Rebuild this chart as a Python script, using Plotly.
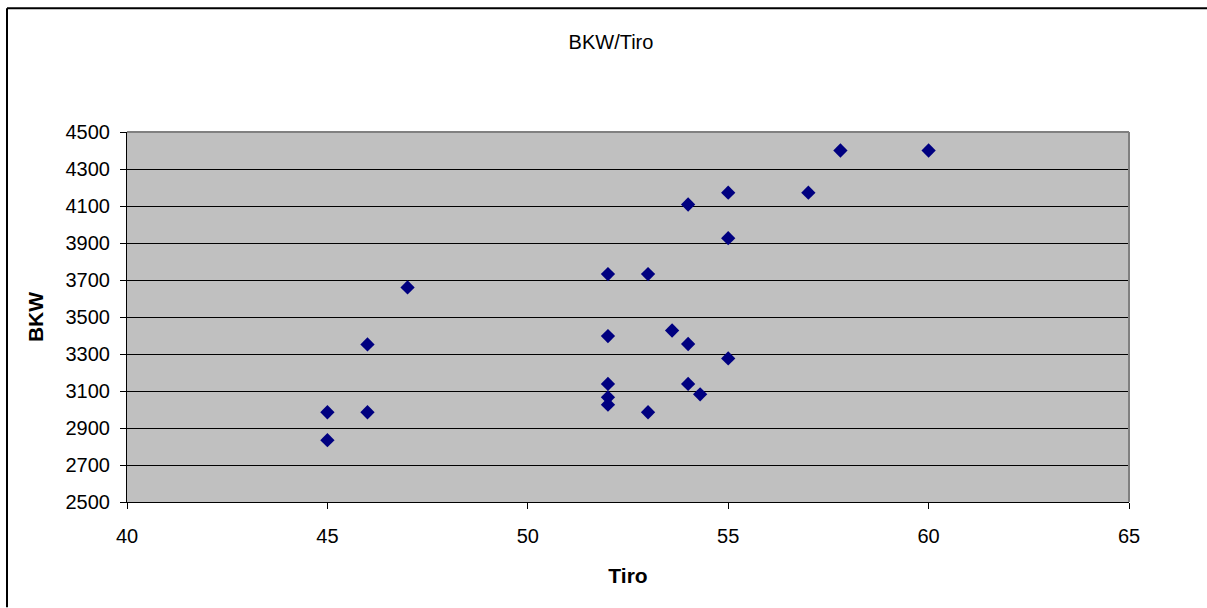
import plotly.graph_objects as go

tiro = [45, 45, 46, 46, 47,
        52, 52, 52, 52, 52,
        53, 53, 53.6,
        54, 54, 54, 54.3,
        55, 55, 55, 57, 57.8, 60]
bkw = [2985, 2834, 3352, 2985, 3660,
       3732, 3397, 3138, 3066, 3026,
       3732, 2985, 3427,
       4108, 3354, 3138, 3082,
       4172, 3926, 3276, 4172, 4400, 4400]

title_text = "BKW/Tiro"
x_title = "Tiro"
y_title = "BKW"
x_ticks = [40, 45, 50, 55, 60, 65]
y_ticks = [2500, 2700, 2900, 3100, 3300, 3500, 3700, 3900, 4100, 4300, 4500]

FONT = "Liberation Sans, Arial, sans-serif"

fig = go.Figure()
fig.add_trace(go.Scatter(
    x=tiro, y=bkw, mode="markers",
    marker=dict(symbol="diamond", size=11, color="#000080",
                line=dict(width=0)),
    showlegend=False, hoverinfo="x+y",
))

W, H = 1207, 608
L, R, T, B = 127, 1129, 132, 502.5
px = lambda x: (x - L) / (R - L)
py = lambda y: (B - y) / (B - T)

fig.update_layout(
    width=W, height=H,
    margin=dict(l=L, r=W - R, t=T, b=H - B, pad=0),
    paper_bgcolor="white",
    plot_bgcolor="#C0C0C0",
    font=dict(family=FONT, size=20, color="black"),
    title=dict(text=title_text, x=611 / W, xanchor="center",
               y=1 - 42 / H, yanchor="middle",
               font=dict(family=FONT, size=20, color="black")),
    xaxis=dict(
        range=[40, 65], tickvals=x_ticks, ticktext=[str(v) for v in x_ticks],
        showgrid=False, zeroline=False,
        showline=True, linecolor="black", linewidth=1, mirror=False,
        ticks="outside", ticklen=6, tickcolor="black", tickwidth=1,
        ticklabelstandoff=10,
        tickfont=dict(family=FONT, size=20, color="black"),
        title=dict(text="<b>" + x_title + "</b>", standoff=22,
                   font=dict(family=FONT, size=21, color="black")),
    ),
    yaxis=dict(
        range=[2500, 4500], tickvals=y_ticks, ticktext=[str(v) for v in y_ticks],
        showgrid=True, gridcolor="black", gridwidth=1, zeroline=False,
        showline=True, linecolor="black", linewidth=1, mirror=False,
        ticks="outside", ticklen=6, tickcolor="black", tickwidth=1,
        ticklabelstandoff=6,
        tickfont=dict(family=FONT, size=20, color="black"),
        title=dict(text="<b>" + y_title + "</b>", standoff=16,
                   font=dict(family=FONT, size=21, color="black")),
    ),
    shapes=[
        dict(type="line", xref="paper", yref="paper", x0=0, x1=1, y0=1, y1=1,
             line=dict(color="#808080", width=2)),
        dict(type="line", xref="paper", yref="paper", x0=1, x1=1, y0=0, y1=1,
             line=dict(color="#808080", width=2)),
        # outer chart border: top and left edges only
        dict(type="line", xref="paper", yref="paper",
             x0=px(7), x1=px(1207), y0=py(8), y1=py(8),
             line=dict(color="black", width=2)),
        dict(type="line", xref="paper", yref="paper",
             x0=px(7), x1=px(7), y0=py(8), y1=py(608),
             line=dict(color="black", width=2)),
    ],
)

fig.write_html("out.html")
